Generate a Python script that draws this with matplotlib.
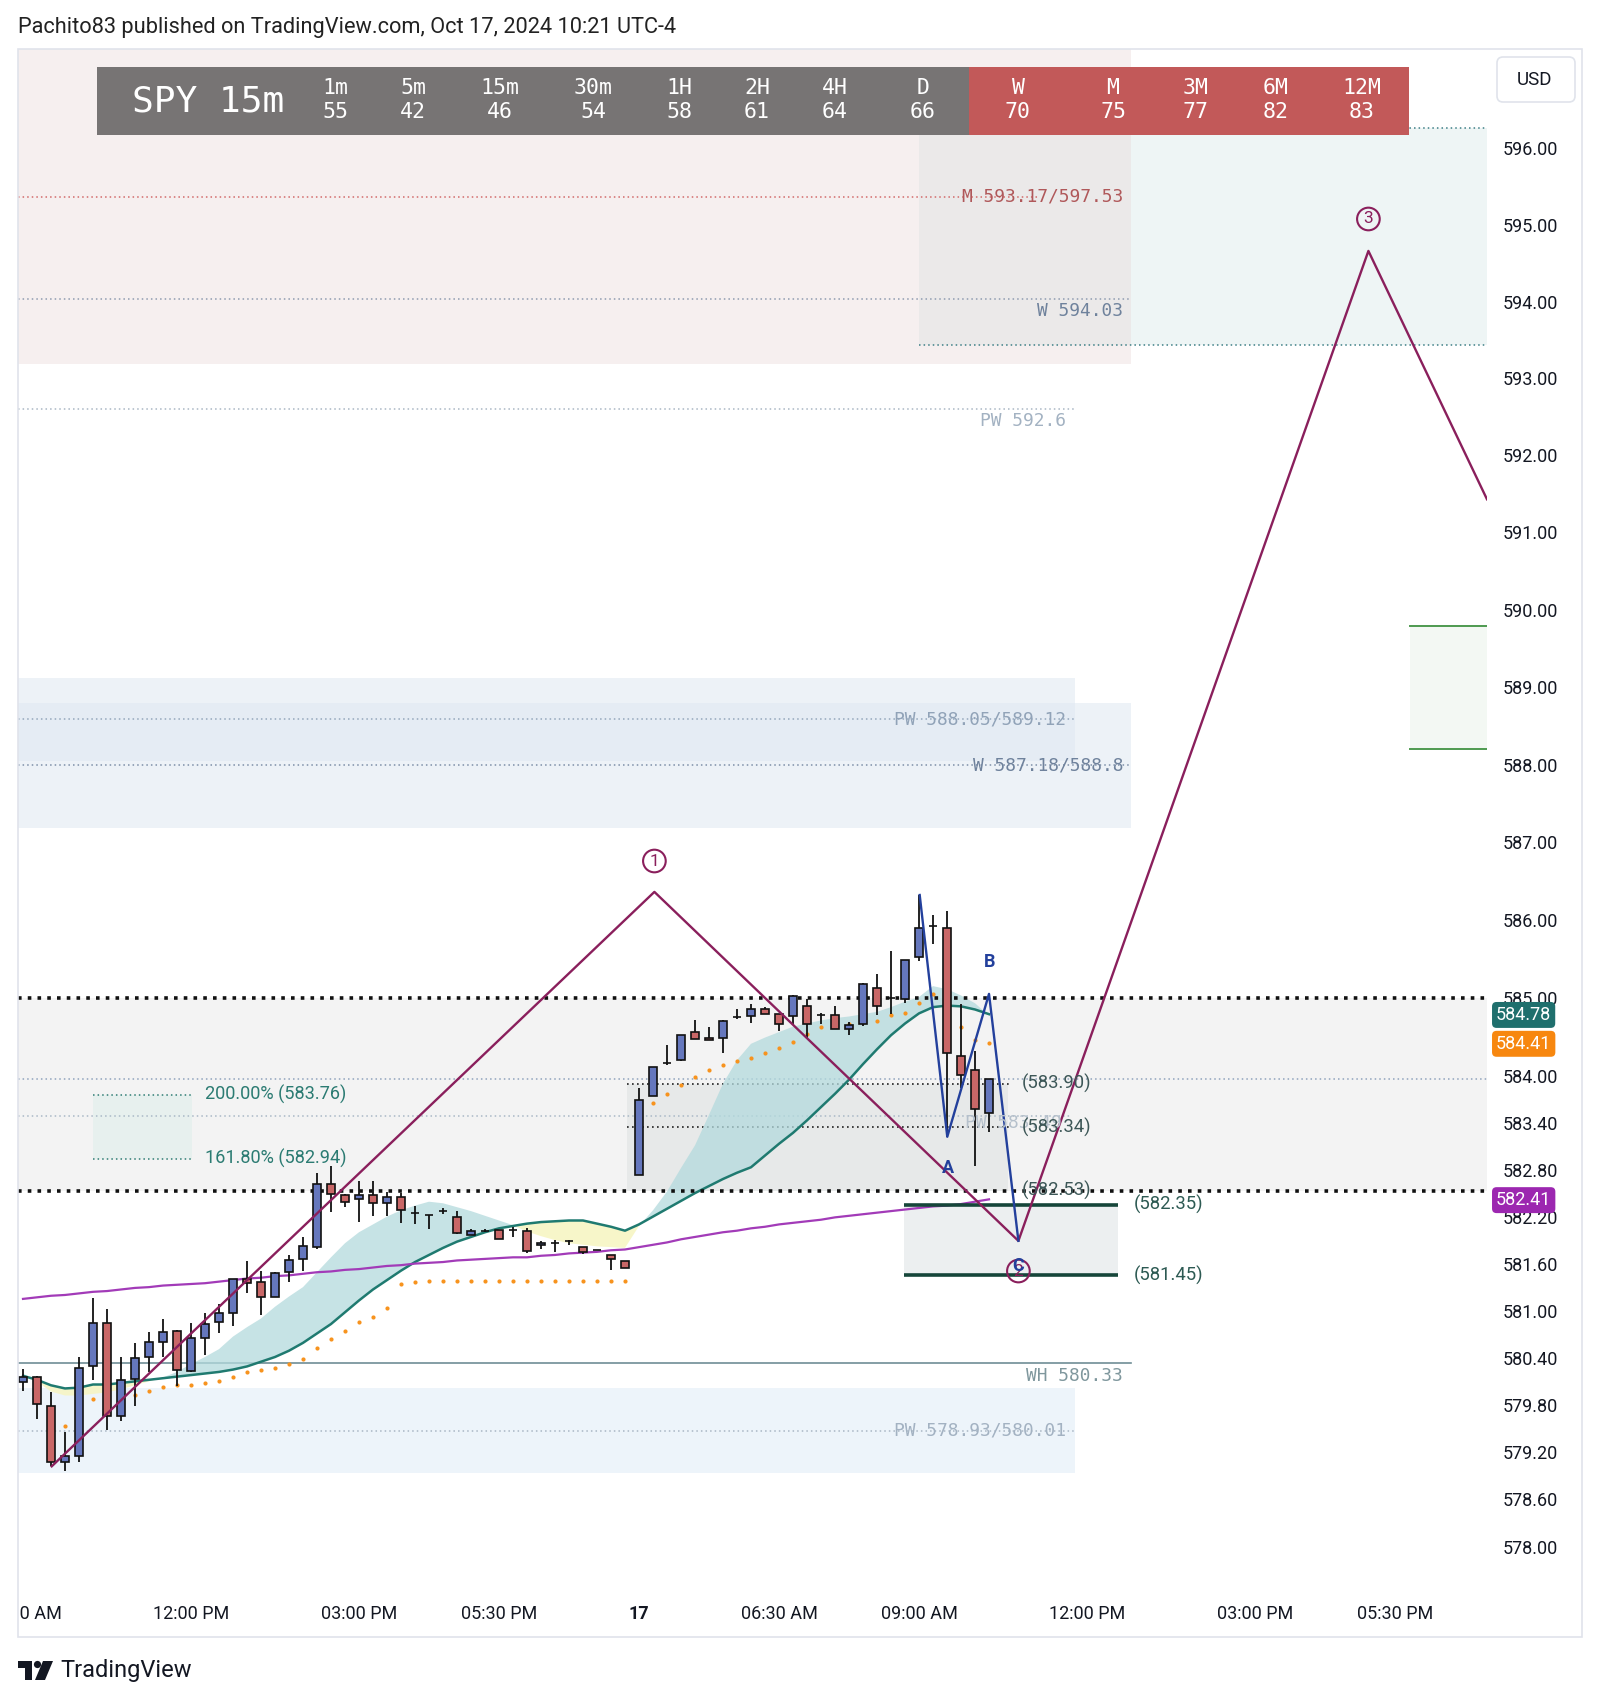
import math
import matplotlib
matplotlib.use("Agg")
import matplotlib.pyplot as plt
import matplotlib.transforms as mtransforms
from matplotlib.ticker import FixedLocator, NullLocator, NullFormatter, FixedFormatter
from matplotlib.patches import Rectangle, FancyBboxPatch, Polygon, Circle

plt.rcParams['font.family'] = ['Roboto', 'DejaVu Sans']

# ---------------- data (bar index 0 = 12:00 PM Oct 16, 15m bars) ----------------
bar_index = list(range(-12, 58))
opens = [580.09, 580.15, 579.79, 579.08, 579.15, 580.29, 580.84, 579.66, 580.13, 580.41,
         580.60, 580.74, 580.23, 580.65, 580.85, 580.97, 581.41, 581.36, 581.18, 581.49,
         581.66, 581.81, 582.62, 582.48, 582.42, 582.48, 582.37, 582.45, 582.25, 582.22,
         582.27, 582.19, 581.97, 582.02, 582.03, 582.03, 582.02, 581.84, 581.86, 581.89,
         581.81, 581.77, 581.71, 581.63, 582.73, 583.74, 584.16, 584.20, 584.56, 584.49,
         584.49, 584.75, 584.77, 584.86, 584.79, 584.77, 584.89, 584.78, 584.78, 584.60,
         584.67, 585.12, 585.00, 584.99, 585.52, 585.92, 585.90, 584.25, 584.07, 583.53]
highs = [580.26, 580.17, 579.97, 579.46, 580.41, 581.16, 581.02, 580.41, 580.59, 580.73,
         580.89, 580.76, 580.84, 580.97, 581.09, 581.41, 581.63, 581.50, 581.49, 581.71,
         581.94, 582.76, 582.84, 582.49, 582.65, 582.65, 582.52, 582.50, 582.33, 582.22,
         582.31, 582.27, 582.04, 582.04, 582.03, 582.07, 582.05, 581.89, 581.90, 581.90,
         581.81, 581.77, 581.71, 581.63, 583.85, 584.11, 584.39, 584.52, 584.71, 584.63,
         584.71, 584.86, 584.92, 584.88, 584.79, 585.03, 584.99, 584.80, 584.89, 584.69,
         585.19, 585.31, 585.60, 585.48, 586.32, 586.06, 586.12, 584.92, 584.32, 583.96]
lows = [579.98, 579.62, 579.02, 578.96, 579.08, 580.12, 579.48, 579.59, 579.79, 580.22,
        580.41, 580.04, 580.22, 580.44, 580.72, 580.81, 581.22, 580.95, 581.17, 581.37,
        581.51, 581.79, 582.26, 582.32, 582.13, 582.21, 582.21, 582.12, 582.11, 582.04,
        582.23, 581.98, 581.96, 582.00, 581.92, 581.94, 581.73, 581.78, 581.75, 581.84,
        581.72, 581.77, 581.52, 581.54, 582.73, 583.74, 584.14, 584.19, 584.47, 584.46,
        584.29, 584.73, 584.68, 584.79, 584.57, 584.67, 584.49, 584.67, 584.60, 584.52,
        584.64, 584.78, 584.79, 584.93, 585.47, 585.69, 583.22, 583.85, 582.85, 583.28]
closes = [580.15, 579.81, 579.07, 579.15, 580.27, 580.84, 579.66, 580.12, 580.40, 580.60,
          580.73, 580.24, 580.65, 580.83, 580.97, 581.40, 581.35, 581.18, 581.48, 581.64,
          581.83, 582.62, 582.49, 582.38, 582.47, 582.37, 582.45, 582.28, 582.25, 582.22,
          582.27, 581.99, 582.01, 582.02, 581.92, 582.03, 581.76, 581.86, 581.86, 581.89,
          581.75, 581.77, 581.66, 581.54, 583.69, 584.11, 584.16, 584.52, 584.47, 584.46,
          584.70, 584.75, 584.85, 584.79, 584.67, 585.02, 584.67, 584.78, 584.60, 584.65,
          585.18, 584.90, 585.00, 585.48, 585.90, 585.92, 584.29, 584.01, 583.58, 583.96]

ema_slow = [580.17, 580.12, 580.05, 580.01, 580.02, 580.06, 580.06, 580.08, 580.10, 580.12,
            580.14, 580.16, 580.18, 580.20, 580.22, 580.25, 580.29, 580.35, 580.41, 580.49,
            580.59, 580.71, 580.83, 580.98, 581.13, 581.27, 581.39, 581.51, 581.62, 581.71,
            581.80, 581.88, 581.94, 582.00, 582.05, 582.08, 582.11, 582.13, 582.14, 582.15,
            582.15, 582.11, 582.07, 582.02, 582.10, 582.20, 582.30, 582.40, 582.50, 582.59,
            582.68, 582.76, 582.83, 582.98, 583.13, 583.27, 583.43, 583.60, 583.77, 583.95,
            584.15, 584.34, 584.52, 584.67, 584.80, 584.88, 584.90, 584.89, 584.85, 584.79]
ema_fast = [580.20, 580.10, 579.97, 579.92, 579.92, 579.94, 579.96, 580.00, 580.05, 580.10,
            580.15, 580.22, 580.32, 580.41, 580.51, 580.67, 580.79, 580.90, 581.05, 581.18,
            581.30, 581.49, 581.68, 581.86, 582.00, 582.10, 582.20, 582.28, 582.34, 582.39,
            582.37, 582.32, 582.27, 582.21, 582.15, 582.09, 582.01, 581.95, 581.90, 581.86,
            581.84, 581.82, 581.81, 581.80, 582.08, 582.28, 582.52, 582.82, 583.11, 583.50,
            583.90, 584.20, 584.41, 584.49, 584.56, 584.63, 584.67, 584.71, 584.74, 584.76,
            584.79, 584.82, 584.88, 584.95, 585.01, 585.15, 585.11, 585.03, 584.93, 584.77]
ma_long = [581.15, 581.17, 581.19, 581.20, 581.22, 581.24, 581.25, 581.27, 581.29, 581.30,
           581.32, 581.33, 581.34, 581.35, 581.37, 581.39, 581.41, 581.42, 581.44, 581.45,
           581.47, 581.49, 581.50, 581.52, 581.53, 581.55, 581.57, 581.58, 581.60, 581.61,
           581.62, 581.64, 581.65, 581.66, 581.67, 581.68, 581.68, 581.70, 581.71, 581.73,
           581.74, 581.75, 581.77, 581.78, 581.81, 581.84, 581.87, 581.91, 581.94, 581.97,
           582.00, 582.02, 582.05, 582.07, 582.10, 582.12, 582.14, 582.16, 582.19, 582.21,
           582.23, 582.25, 582.27, 582.29, 582.31, 582.33, 582.34, 582.36, 582.39, 582.42]
trail_dots = [None, None, 579.63, 579.53, 579.63, 579.88, 579.91, 579.91, 579.93, 579.98,
              580.03, 580.05, 580.06, 580.08, 580.11, 580.16, 580.22, 580.24, 580.27, 580.32,
              580.39, 580.53, 580.64, 580.74, 580.85, 580.92, 581.03, 581.34, 581.37, 581.38,
              581.38, 581.38, 581.38, 581.38, 581.38, 581.38, 581.38, 581.38, 581.38, 581.38,
              581.38, 581.38, 581.38, 581.38, 583.43, 583.65, 583.77, 583.88, 583.99, 584.07,
              584.14, 584.19, 584.23, 584.29, 584.35, 584.43, 584.54, 584.63, 584.65, 584.67,
              584.69, 584.70, 584.78, 584.81, 584.93, 585.05, 584.68, 584.62, 584.46, 584.42]

wave_x = [-9.95, 33.1, 59.1, 84.1, 92.57]
wave_y = [579.02, 586.36, 581.89, 594.66, 591.43]
abc_x = [52.05, 54.02, 57.0, 59.1]
abc_y = [586.32, 583.22, 585.05, 581.89]

tick_pos = [-12, 0, 12, 22, 32, 42, 52, 64, 76, 86]
tick_labels = ["09:00 AM", "12:00 PM", "03:00 PM", "05:30 PM", "17", "06:30 AM",
               "09:00 AM", "12:00 PM", "03:00 PM", "05:30 PM"]
price_ticks = [596, 595, 594, 593, 592, 591, 590, 589, 588, 587, 586, 585, 584,
               583.4, 582.8, 582.2, 581.6, 581.0, 580.4, 579.8, 579.2, 578.6, 578.0]

header_tf = ["1m", "5m", "15m", "30m", "1H", "2H", "4H", "D", "W", "M", "3M", "6M", "12M"]
header_val = [55, 42, 46, 54, 58, 61, 64, 66, 70, 75, 77, 82, 83]

# ---------------- figure ----------------
W, H = 1600, 1702
fig = plt.figure(figsize=(W / 100, H / 100), dpi=100)
fig.patch.set_facecolor('white')
pxT = mtransforms.Affine2D().scale(1.0 / W, -1.0 / H).translate(0, 1) + fig.transFigure

L, R, T, B = 18, 1487, 49, 1590
ax = fig.add_axes([L / W, 1 - B / H, (R - L) / W, (B - T) / H])
X0, X1 = -12.357, 92.571
ax.set_yscale('log')
ax.set_xlim(X0, X1)
ax.set_ylim(577.452, 597.299)
for s in ax.spines.values():
    s.set_visible(False)
ax.set_facecolor('white')


def ix(xpx):
    return (xpx - 191.0) / 14.0


def py(ypx):
    return 596.0 * math.exp(-(ypx - 148.3) / 45600.0)


MONO = ['DejaVu Sans Mono']
YT = 597.299

# ---- zones ----
ax.add_patch(Rectangle((X0, py(364)), ix(1131) - X0, YT + 1 - py(364), fc='#f6efef', ec='none', zorder=0.5))
ax.add_patch(Rectangle((52, py(345)), ix(1131) - 52, py(128) - py(345), fc='#ebe9e9', ec='none', zorder=0.6))
ax.add_patch(Rectangle((ix(1131), py(345)), X1 - ix(1131), py(128) - py(345), fc='#eef5f5', ec='none', zorder=0.6))
for yp in (128, 345):
    ax.plot([52, X1], [py(yp), py(yp)], color='#3d7f86', lw=1.1, ls=(0, (1, 2)), zorder=1)

# PW / W blue zones
ax.add_patch(Rectangle((X0, 588.05), ix(1075) - X0, 589.12 - 588.05, fc='#dfe8f2', ec='none', alpha=0.55, zorder=0.5))
ax.add_patch(Rectangle((X0, 587.18), ix(1131) - X0, 588.8 - 587.18, fc='#dfe8f2', ec='none', alpha=0.55, zorder=0.5))
ax.add_patch(Rectangle((X0, 578.93), ix(1075) - X0, 580.01 - 578.93, fc='#edf4fa', ec='none', zorder=0.5))

# main gray zone
ax.add_patch(Rectangle((X0, 582.53), X1 - X0, 585.0 - 582.53, fc='#f3f3f3', ec='none', zorder=0.5))
ax.add_patch(Rectangle((ix(627), 582.53), ix(1008) - ix(627), 583.90 - 582.53, fc='#e7e9e9', ec='none', zorder=0.6))

# fib box
ax.add_patch(Rectangle((ix(93), 582.94), ix(192) - ix(93), 583.76 - 582.94, fc='#e7f0ee', ec='none', zorder=0.6))
for yv in (583.76, 582.94):
    ax.plot([ix(93), ix(192)], [yv, yv], color='#2f7d74', lw=1.1, ls=(0, (1, 2)), zorder=1)

# target box
ax.add_patch(Rectangle((ix(904), 581.45), ix(1118) - ix(904), 582.35 - 581.45, fc='#eceff0', ec='none', zorder=0.6))
for yv in (582.35, 581.45):
    ax.plot([ix(904), ix(1118)], [yv, yv], color='#16463a', lw=2.6, zorder=3, solid_capstyle='butt')

# right green box
ax.add_patch(Rectangle((ix(1410), 588.20), X1 - ix(1410), 589.79 - 588.20, fc='#f3f8f3', ec='none', zorder=0.6))
for yv in (589.79, 588.20):
    ax.plot([ix(1410), X1], [yv, yv], color='#4e9a50', lw=1.4, zorder=1)

# ---- level lines ----
ax.plot([X0, ix(1040)], [595.37, 595.37], color='#d26a6a', lw=1.1, ls=(0, (1, 2)), zorder=1)
ax.plot([X0, ix(1131)], [594.03, 594.03], color='#8e9bb0', lw=1.1, ls=(0, (1, 2)), zorder=1)
ax.plot([X0, ix(1075)], [592.6, 592.6], color='#a9b6c4', lw=1.1, ls=(0, (1, 2)), zorder=1)
ax.plot([X0, ix(1075)], [588.585, 588.585], color='#93a6bb', lw=1.1, ls=(0, (1, 2)), zorder=1)
ax.plot([X0, ix(1131)], [587.99, 587.99], color='#7d8fa8', lw=1.1, ls=(0, (1, 2)), zorder=1)
ax.plot([X0, ix(1131)], [580.33, 580.33], color='#6f8e96', lw=1.2, zorder=1)
ax.plot([X0, ix(1075)], [579.47, 579.47], color='#a9b6c4', lw=1.1, ls=(0, (1, 2)), zorder=1)
ax.plot([X0, X1], [583.96, 583.96], color='#8fa3bd', lw=1.1, ls=(0, (1, 2)), zorder=1)
ax.plot([X0, ix(1070)], [583.49, 583.49], color='#a9b8c6', lw=1.1, ls=(0, (1, 2)), zorder=1)
ax.plot([ix(627), ix(1010)], [583.90, 583.90], color='#222', lw=1.2, ls=(0, (1, 2)), zorder=1.2)
ax.plot([ix(627), ix(1010)], [583.34, 583.34], color='#222', lw=1.2, ls=(0, (1, 2)), zorder=1.2)
for yv in (585.0, 582.53):
    ax.plot([X0, X1], [yv, yv], color='#111', lw=2.6, ls=(0, (1, 1.7)), zorder=3)

# ---- indicators ----
ax.fill_between(bar_index, ema_fast, ema_slow, where=[f >= s for f, s in zip(ema_fast, ema_slow)],
                interpolate=True, color='#b3dadd', alpha=0.75, lw=0, zorder=2)
ax.fill_between(bar_index, ema_fast, ema_slow, where=[f < s for f, s in zip(ema_fast, ema_slow)],
                interpolate=True, color='#f7f5c4', alpha=0.9, lw=0, zorder=2)
ax.plot(bar_index, ema_slow, color='#1f7a70', lw=1.8, zorder=2.5)
ax.plot(bar_index, ma_long, color='#a23bb8', lw=1.6, zorder=2.6)
dx = [b for b, d in zip(bar_index, trail_dots) if d is not None]
dy = [d for d in trail_dots if d is not None]
ax.scatter(dx, dy, s=9, color='#f7931e', zorder=2.7, lw=0)

# ---- candles ----
cols = ['#6577bd' if c >= o else '#c96767' for o, c in zip(opens, closes)]
bottoms = [min(o, c) for o, c in zip(opens, closes)]
heights = [abs(c - o) for o, c in zip(opens, closes)]
ax.vlines(bar_index, lows, highs, color='#111', lw=1.3, zorder=4.9)
ax.bar(bar_index, heights, bottom=bottoms, width=0.62, color=cols, edgecolor='#111',
       linewidth=1.2, zorder=5)

# ---- wave drawings ----
ax.plot(wave_x, wave_y, color='#8a1f5c', lw=1.7, zorder=6)
ax.plot(abc_x, abc_y, color='#23409c', lw=1.7, zorder=6)

circ_kw = dict(ha='center', va='center', fontsize=12.5, color='#8a1f5c', zorder=7,
               bbox=dict(boxstyle='circle,pad=0.22', fc='none', ec='#8a1f5c', lw=1.5))
ax.text(33.1, py(861), '1', **circ_kw)
ax.text(84.1, py(219), '3', **circ_kw)
ax.text(59.1, py(1271), '2', **circ_kw)
ax.text(59.1, py(1266), 'C', ha='center', va='center', fontsize=13, color='#23409c',
        fontweight='bold', zorder=7.5)
ax.text(ix(948), py(1168), 'A', ha='center', va='center', fontsize=13, color='#23409c',
        fontweight='bold', zorder=7)
ax.text(ix(990), py(962), 'B', ha='center', va='center', fontsize=13, color='#23409c',
        fontweight='bold', zorder=7)

# ---- level labels ----
LV = 12.9
ax.text(ix(1123), 595.37, 'M 593.17/597.53', ha='right', va='center', fontsize=LV,
        family=MONO, color='#b0585a', zorder=7)
ax.text(ix(1123), py(311), 'W 594.03', ha='right', va='center', fontsize=LV,
        family=MONO, color='#6f829c', zorder=7)
ax.text(ix(1066), py(421), 'PW 592.6', ha='right', va='center', fontsize=LV,
        family=MONO, color='#a3b2c2', zorder=7)
ax.text(ix(1066), 588.585, 'PW 588.05/589.12', ha='right', va='center', fontsize=LV,
        family=MONO, color='#91a3b8', zorder=7)
ax.text(ix(1123), 587.99, 'W 587.18/588.8', ha='right', va='center', fontsize=LV,
        family=MONO, color='#6f829c', zorder=7)
ax.text(ix(1123), py(1376), 'WH 580.33', ha='right', va='center', fontsize=LV,
        family=MONO, color='#7f979d', zorder=7)
ax.text(ix(1066), 579.47, 'PW 578.93/580.01', ha='right', va='center', fontsize=LV,
        family=MONO, color='#a3b2c2', zorder=7)
ax.text(ix(1062), 583.40, 'PW 583.49', ha='right', va='center', fontsize=LV,
        family=MONO, color='#b5c0cb', zorder=6.5)
for yv, s in ((583.90, '(583.90)'), (583.34, '(583.34)'), (582.53, '(582.53)')):
    ax.text(ix(1022), yv, s, ha='left', va='center', fontsize=13.3, color='#3d5757', zorder=7)
for yv, s in ((582.35, '(582.35)'), (581.45, '(581.45)')):
    ax.text(ix(1134), yv, s, ha='left', va='center', fontsize=13.3, color='#2d5a53', zorder=7)
ax.text(ix(205), 583.76, '200.00% (583.76)', ha='left', va='center', fontsize=13.1,
        color='#2b7b72', zorder=7)
ax.text(ix(205), 582.94, '161.80% (582.94)', ha='left', va='center', fontsize=13.1,
        color='#2b7b72', zorder=7)

# ---- axes ticks ----
ax.yaxis.tick_right()
ax.yaxis.set_major_locator(FixedLocator(price_ticks))
ax.yaxis.set_major_formatter(FixedFormatter(['%.2f' % v for v in price_ticks]))
ax.yaxis.set_minor_locator(NullLocator())
ax.yaxis.set_minor_formatter(NullFormatter())
ax.tick_params(axis='y', which='both', length=0, pad=11.5, labelsize=13, labelcolor='#131722')
ax.set_xticks(tick_pos)
ax.set_xticklabels(tick_labels)
ax.tick_params(axis='x', length=0, pad=11, labelsize=13, labelcolor='#131722')
for lab in ax.get_xticklabels():
    if lab.get_text() == '17':
        lab.set_fontweight('bold')
first = ax.xaxis.get_major_ticks()[0].label1
first.set_clip_on(True)
first.set_clip_box(mtransforms.TransformedBbox(
    mtransforms.Bbox.from_extents(19.0 / W, 0, 1, 1), fig.transFigure))

# price-scale badges
bT = mtransforms.blended_transform_factory(pxT, ax.transData)
for yv, s, c in ((584.78, '584.78', '#1f6f6d'), (584.41, '584.41', '#f7870f'),
                 (582.41, '582.41', '#9c27b0')):
    ax.text(1496, yv, s, transform=bT, ha='left', va='center', fontsize=13, color='white',
            zorder=10, clip_on=False,
            bbox=dict(boxstyle='round,pad=0.22,rounding_size=0.25', fc=c, ec='none'))

# ---- frame / header / footer ----
fig.patches.append(Rectangle((18, 49), 1564, 1588, transform=pxT, fill=False,
                             ec='#e0e3eb', lw=1.2))
fig.patches.append(FancyBboxPatch((1497, 57), 78, 45, transform=pxT,
                                  boxstyle='round,pad=0,rounding_size=6',
                                  fc='white', ec='#e0e3eb', lw=1.2))
fig.text(1535, 80, 'USD', transform=pxT, ha='center', va='center', fontsize=13.5,
         color='#131722')

fig.patches.append(Rectangle((97, 67), 872, 68, transform=pxT, fc='#777474', ec='none'))
fig.patches.append(Rectangle((969, 67), 440, 68, transform=pxT, fc='#c25959', ec='none'))
fig.text(208, 101, 'SPY 15m', transform=pxT, ha='center', va='center', fontsize=26,
         family=MONO, color='white')
header_x = [335, 413, 500, 593, 679, 757, 835, 923, 1018, 1113, 1196, 1276, 1362]
for hx, tf, v in zip(header_x, header_tf, header_val):
    fig.text(hx, 88, tf, transform=pxT, ha='center', va='center', fontsize=15.5,
             family=MONO, color='white')
    fig.text(hx, 112, str(v), transform=pxT, ha='center', va='center', fontsize=15.5,
             family=MONO, color='white')

fig.text(18, 27, 'Pachito83 published on TradingView.com, Oct 17, 2024 10:21 UTC-4',
         transform=pxT, ha='left', va='center', fontsize=15.7, color='#222222')

# TradingView logo
fig.patches.append(Polygon([(18, 1661), (32, 1661), (32, 1680), (25, 1680), (25, 1668), (18, 1668)],
                           closed=True, transform=pxT, fc='#131722', ec='none'))
fig.patches.append(Circle((37.5, 1664.5), 3.6, transform=pxT, fc='#131722', ec='none'))
fig.patches.append(Polygon([(43, 1661), (53, 1661), (45, 1680), (35, 1680)],
                           closed=True, transform=pxT, fc='#131722', ec='none'))
fig.text(60, 1670, 'TradingView', transform=pxT, ha='left', va='center', fontsize=17,
         color='#131722')

fig.savefig('out.png', dpi=100, facecolor='white')
